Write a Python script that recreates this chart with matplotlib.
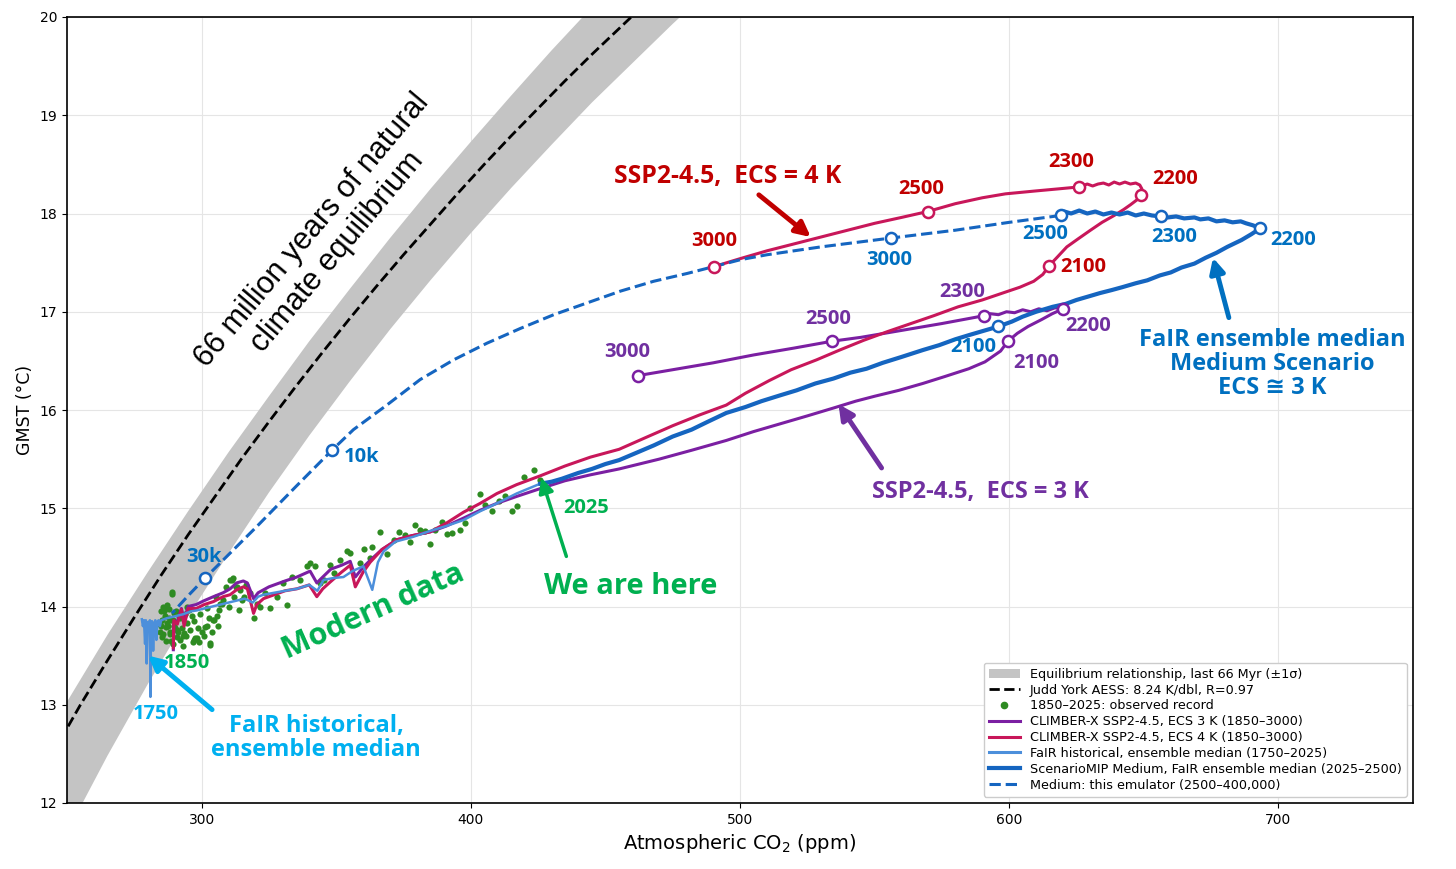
import numpy as np
import matplotlib
matplotlib.use("Agg")
import matplotlib.pyplot as plt
from matplotlib.lines import Line2D
from matplotlib.patches import Patch

# ---- data (CO2 ppm, GMST degC) ----
band_co2 = [245, 250, 265, 280, 295, 310, 325, 340, 355, 370, 385, 400, 415, 430, 445, 455]
band_top = [12.80, 13.03, 13.71, 14.35, 14.97, 15.57, 16.14, 16.70, 17.23, 17.75, 18.25,
            18.73, 19.20, 19.66, 20.10, 20.39]
band_low_co2 = [250, 265, 280, 295, 310, 325, 340, 355, 370, 385, 400, 415, 430, 445, 460, 475, 490]
band_bottom = [11.70, 12.48, 13.21, 13.90, 14.54, 15.16, 15.74, 16.29, 16.82, 17.32, 17.80,
               18.26, 18.70, 19.13, 19.53, 19.93, 20.31]

judd_co2 = [245, 255, 265, 275, 285, 295, 305, 315, 325, 335, 345, 355, 365, 375, 385,
            395, 405, 415, 425, 435, 445, 455, 465]
judd_t = [12.52, 13.00, 13.45, 13.89, 14.32, 14.73, 15.12, 15.51, 15.88, 16.24, 16.59,
          16.93, 17.26, 17.58, 17.89, 18.20, 18.50, 18.79, 19.07, 19.35, 19.62, 19.88, 20.14]

obs_co2 = [285.3, 286.6, 284.7, 287.8, 289.0, 287.2, 290.3, 290.9, 292.1, 293.4,
           294.6, 295.2, 296.5, 297.7, 299.0, 300.2, 301.4, 302.7, 303.3, 304.5,
           306.4, 307.6, 310.1, 311.3, 312.6, 313.8, 315.1, 285.3, 289.7, 288.9,
           285.8, 289.5, 292.0, 294.5, 287.0, 290.8, 293.2, 297.0, 298.2, 301.9,
           303.2, 304.4, 305.6, 306.9, 308.1, 310.6, 311.8, 313.1, 314.3, 315.6,
           318.0, 319.3, 320.5, 321.8, 323.6, 325.5, 327.9, 330.4, 331.7, 333.5,
           336.6, 339.1, 340.3, 342.2, 344.0, 345.3, 347.8, 349.0, 351.5, 354.0,
           355.2, 358.9, 360.2, 362.6, 363.3, 366.4, 368.8, 371.3, 373.2, 375.7,
           377.5, 379.4, 381.2, 383.1, 384.9, 386.8, 389.3, 391.1, 393.0, 396.1,
           397.9, 399.8, 403.5, 405.4, 407.9, 410.4, 412.8, 415.3, 417.2, 419.6,
           423.4, 425.8, 286.0, 288.2, 291.5, 284.9, 286.9, 288.5,
           284.5, 285.0, 285.8, 286.3, 286.9, 287.4, 287.9, 288.4, 288.8, 289.3,
           289.9, 290.6, 291.2, 291.8, 292.6, 293.0, 293.9, 294.2, 295.8, 296.9,
           297.3, 298.6, 299.5, 300.8, 302.0, 303.8, 305.2, 306.0, 309.0, 312.0, 316.5]
obs_t = [13.86, 13.79, 13.74, 13.88, 14.13, 14.02, 13.78, 13.69, 13.66, 13.73,
         13.83, 13.96, 13.90, 13.68, 13.64, 13.74, 13.79, 13.88, 13.61, 13.86,
         13.96, 14.03, 14.00, 14.27, 14.20, 13.96, 14.07, 13.69, 13.93, 14.15,
         14.00, 13.86, 13.93, 14.00, 13.83, 13.76, 13.70, 13.66, 13.68, 13.80,
         13.63, 13.86, 13.90, 14.03, 14.07, 14.27, 14.29, 14.20, 14.17, 14.10,
         14.14, 13.88, 14.03, 14.00, 14.14, 13.98, 14.10, 14.24, 14.02, 14.30,
         14.27, 14.41, 14.44, 14.41, 14.24, 14.27, 14.42, 14.34, 14.47, 14.56,
         14.54, 14.44, 14.59, 14.49, 14.61, 14.76, 14.53, 14.68, 14.76, 14.73,
         14.66, 14.83, 14.78, 14.77, 14.64, 14.78, 14.86, 14.74, 14.75, 14.78,
         14.85, 15.00, 15.15, 15.03, 14.97, 15.07, 15.12, 14.97, 15.02, 15.32,
         15.39, 15.29, 13.95, 13.72, 13.90, 13.80, 13.98, 13.65,
         13.82, 13.95, 13.72, 13.90, 13.65, 13.80, 13.97, 13.74, 13.86, 13.62,
         13.80, 13.95, 13.74, 13.88, 13.78, 13.60, 13.92, 13.70, 13.76, 13.64,
         13.85, 13.78, 13.92, 13.70, 13.98, 13.74, 14.10, 13.80, 14.20, 14.10, 14.22]

ecs3_path = [(289.5, 13.56), (289.7, 13.84), (291.0, 13.85), (292.5, 13.98), (293.5, 13.86),
             (295.0, 14.00), (298.0, 14.02), (301.0, 14.06), (304.4, 14.10), (308.0, 14.14),
             (310.6, 14.18), (313.0, 14.24), (315.5, 14.26), (317.0, 14.24), (319.3, 14.08),
             (321.0, 14.14), (325.0, 14.20), (331.0, 14.26), (335.4, 14.30), (340.3, 14.36),
             (342.8, 14.24), (345.0, 14.30), (348.0, 14.38), (352.0, 14.42), (355.2, 14.46),
             (357.1, 14.30), (360.0, 14.40), (363.0, 14.48), (367.0, 14.58), (372.6, 14.68),
             (378.0, 14.72), (385.0, 14.76), (391.0, 14.82), (397.3, 14.90), (403.5, 14.98),
             (409.7, 15.05), (417.0, 15.12), (425.8, 15.20), (435.0, 15.28), (444.4, 15.34),
             (455.1, 15.40), (470.0, 15.50), (482.0, 15.59), (494.9, 15.69), (505.0, 15.78),
             (515.0, 15.86), (525.0, 15.94), (534.7, 16.02), (543.0, 16.09), (550.0, 16.14),
             (559.0, 16.20), (567.9, 16.27), (576.0, 16.34), (585.0, 16.42), (591.0, 16.49),
             (596.8, 16.60), (599.5, 16.70), (603.0, 16.78), (607.0, 16.85), (612.0, 16.92),
             (616.0, 16.98), (620.0, 17.03), (617.0, 17.04), (614.0, 17.01), (611.0, 17.03),
             (608.0, 17.00), (605.0, 17.02), (602.0, 16.99), (599.0, 17.00), (596.0, 16.97),
             (593.0, 16.98), (590.7, 16.96), (575.0, 16.88), (560.0, 16.81), (545.0, 16.74),
             (534.2, 16.70), (520.0, 16.63), (505.0, 16.56), (490.0, 16.48), (475.0, 16.41),
             (462.1, 16.35)]

ecs4_path = [(289.5, 13.58), (289.7, 13.86), (291.0, 13.82), (292.5, 13.97), (293.5, 13.80),
             (295.0, 13.98), (298.0, 13.98), (301.0, 14.02), (304.4, 14.05), (308.0, 14.10),
             (310.6, 14.12), (313.0, 14.17), (315.5, 14.20), (317.0, 14.18), (319.3, 13.93),
             (320.5, 14.02), (323.0, 14.08), (327.0, 14.12), (331.0, 14.16), (335.4, 14.18),
             (340.0, 14.22), (342.8, 14.10), (345.0, 14.18), (347.8, 14.25), (352.0, 14.35),
             (355.2, 14.42), (357.1, 14.20), (360.0, 14.35), (362.6, 14.45), (367.0, 14.58),
             (372.6, 14.68), (378.0, 14.72), (384.9, 14.76), (391.0, 14.85), (397.3, 14.96),
             (403.5, 15.05), (409.7, 15.15), (417.0, 15.24), (425.8, 15.33), (435.0, 15.43),
             (444.4, 15.52), (455.1, 15.60), (465.0, 15.72), (475.0, 15.84), (485.0, 15.95),
             (494.9, 16.05), (502.0, 16.17), (510.9, 16.30), (519.0, 16.41), (528.4, 16.51),
             (537.0, 16.61), (546.0, 16.71), (555.0, 16.80), (563.5, 16.88), (572.0, 16.96),
             (581.0, 17.05), (590.0, 17.12), (598.6, 17.20), (604.0, 17.25), (609.1, 17.31),
             (612.5, 17.38), (614.9, 17.47), (618.0, 17.56), (621.4, 17.66), (625.5, 17.74),
             (630.2, 17.83), (634.5, 17.91), (639.0, 17.98), (642.5, 18.04), (645.1, 18.09),
             (647.5, 18.14), (649.0, 18.19), (649.3, 18.25), (648.5, 18.29), (647.0, 18.31),
             (645.0, 18.30), (643.0, 18.32), (641.0, 18.30), (639.0, 18.32), (637.0, 18.29),
             (635.0, 18.31), (633.0, 18.30), (631.0, 18.28), (629.0, 18.30), (627.0, 18.28),
             (625.8, 18.27), (618.0, 18.25), (610.0, 18.23), (598.6, 18.20), (590.0, 18.16),
             (580.0, 18.10), (569.7, 18.02), (560.0, 17.96), (550.0, 17.90), (540.0, 17.83),
             (530.0, 17.76), (520.0, 17.69), (510.0, 17.62), (500.0, 17.54), (490.4, 17.46)]

fair_hist_path = [(277.8, 13.87), (278.2, 13.80), (278.6, 13.86), (279.0, 13.62), (279.3, 13.86),
                  (279.6, 13.42), (280.0, 13.84), (280.4, 13.82), (280.8, 13.86), (281.0, 13.08),
                  (281.2, 13.80), (281.6, 13.85), (282.0, 13.55), (282.4, 13.82), (282.8, 13.86),
                  (283.2, 13.66), (283.6, 13.84), (284.0, 13.86), (284.5, 13.80), (285.0, 13.86),
                  (287.0, 13.88), (290.0, 13.90), (293.0, 13.92), (296.0, 13.95), (298.2, 13.96),
                  (301.0, 13.98), (304.0, 14.00), (307.0, 14.02), (310.0, 14.04), (313.0, 14.06),
                  (316.0, 14.08), (319.0, 14.04), (321.0, 14.10), (323.0, 14.12), (327.0, 14.14),
                  (331.0, 14.16), (335.4, 14.18), (340.0, 14.22), (343.0, 14.16), (345.3, 14.27),
                  (349.0, 14.29), (352.7, 14.30), (356.0, 14.36), (360.1, 14.41), (363.4, 14.17),
                  (365.5, 14.45), (367.6, 14.56), (372.0, 14.66), (378.7, 14.71), (385.0, 14.77),
                  (391.0, 14.82), (397.3, 14.88), (403.5, 14.97), (409.7, 15.05), (417.0, 15.15),
                  (425.8, 15.25)]

medium_path = [(425.8, 15.25), (430, 15.27), (433.8, 15.30), (440, 15.36), (445, 15.40),
               (450, 15.45), (455.1, 15.49), (462, 15.57), (468, 15.64), (475, 15.73),
               (482, 15.80), (488, 15.88), (494.9, 15.97), (502, 16.03), (508, 16.09),
               (515, 16.15), (521, 16.20), (528, 16.27), (534.7, 16.32), (541, 16.38),
               (547, 16.42), (553, 16.48), (560, 16.54), (567.9, 16.61), (574, 16.66),
               (580, 16.72), (586, 16.77), (591, 16.81), (596.0, 16.85), (601, 16.90),
               (605, 16.95), (610, 17.00), (616.1, 17.05), (621, 17.08), (625, 17.12),
               (630, 17.16), (633.7, 17.19), (638, 17.22), (642, 17.25), (647, 17.29),
               (651.3, 17.32), (656, 17.37), (660, 17.40), (664, 17.45), (668.8, 17.49),
               (673, 17.55), (677, 17.60), (681, 17.66), (686.3, 17.73), (690, 17.79),
               (693.3, 17.85), (690.5, 17.88), (688, 17.90), (686, 17.92), (683, 17.91),
               (680, 17.93), (677, 17.92), (674, 17.95), (671, 17.94), (668.8, 17.96),
               (665, 17.95), (662, 17.97), (659, 17.96), (656.5, 17.97), (653, 17.98),
               (650, 18.00), (647, 17.98), (644, 18.01), (641, 17.99), (638, 18.01),
               (635, 17.99), (632, 18.02), (629, 18.00), (626, 18.03), (623, 18.00),
               (620.5, 18.02), (619.1, 17.98)]

emulator_path = [(619.1, 17.98), (600, 17.91), (580, 17.83), (556, 17.75), (530, 17.66),
                 (510, 17.58), (500.2, 17.53), (490.3, 17.46), (480.4, 17.39), (467.9, 17.31),
                 (455.6, 17.21), (443.2, 17.09), (430.8, 16.97), (418.4, 16.83), (406.0, 16.68),
                 (393.6, 16.51), (381.2, 16.31), (368.8, 16.05), (356.4, 15.80), (348.4, 15.59),
                 (335, 15.22), (320, 14.80), (301.3, 14.29), (295, 14.11), (289, 13.93)]

# year markers on each trajectory
ecs4_years = ['2100', '2200', '2300', '2500', '3000']
ecs4_mark_co2 = [614.9, 649.0, 625.8, 569.7, 490.4]
ecs4_mark_t = [17.47, 18.19, 18.27, 18.02, 17.46]

ecs3_years = ['2100', '2200', '2300', '2500', '3000']
ecs3_mark_co2 = [599.5, 620.0, 590.7, 534.2, 462.1]
ecs3_mark_t = [16.70, 17.03, 16.96, 16.70, 16.35]

medium_years = ['2100', '2200', '2300', '2500', '3000', '10k', '30k']
medium_mark_co2 = [596.0, 693.3, 656.5, 619.1, 556.0, 348.4, 301.3]
medium_mark_t = [16.85, 17.85, 17.97, 17.98, 17.75, 15.59, 14.29]

# ---- styling ----
C_RED_LINE = '#C8175A'
C_PURPLE_LINE = '#7B1FA2'
C_BLUE = '#1565C0'
C_LIGHTBLUE = '#4C8FDB'
C_GREEN_DOT = '#2E8B22'
C_RED_TXT = '#C00000'
C_PURPLE_TXT = '#7030A0'
C_BLUE_TXT = '#0070C0'
C_GREEN_TXT = '#00B050'
C_CYAN_TXT = '#00B0F0'
ANN_FONT = ['Open Sans', 'DejaVu Sans']

fig = plt.figure(figsize=(14.56, 8.69), dpi=100)
ax = fig.add_axes([67 / 1456, 1 - 803 / 869, 1346 / 1456, 786 / 869])

ax.fill(band_co2 + band_low_co2[::-1], band_top + band_bottom[::-1],
        color='#C4C4C4', lw=0, zorder=1)
ax.plot(judd_co2, judd_t, color='black', ls='--', lw=2, zorder=2)

ax.scatter(obs_co2, obs_t, s=20, color=C_GREEN_DOT, lw=0, zorder=3)

for path, color, lw in [(ecs3_path, C_PURPLE_LINE, 2.2), (ecs4_path, C_RED_LINE, 2.2),
                        (fair_hist_path, C_LIGHTBLUE, 1.8), (medium_path, C_BLUE, 3.0)]:
    p = np.array(path)
    ax.plot(p[:, 0], p[:, 1], color=color, lw=lw, zorder=4, solid_joinstyle='round')

em = np.array(emulator_path)
ax.plot(em[:, 0], em[:, 1], color=C_BLUE, ls='--', lw=2.2, zorder=4)

for xs, ys, color in [(ecs4_mark_co2, ecs4_mark_t, C_RED_LINE),
                      (ecs3_mark_co2, ecs3_mark_t, C_PURPLE_LINE),
                      (medium_mark_co2, medium_mark_t, C_BLUE)]:
    ax.plot(xs, ys, 'o', ms=8, mfc='white', mec=color, mew=1.8, zorder=6)

# year labels next to the markers
lab_kw = dict(fontsize=14.5, fontweight='bold', family=ANN_FONT, ha='center', va='center', zorder=7)
for txt, x, y in zip(ecs4_years, [627.5, 661.7, 623.2, 567.4, 490.4], [17.46, 18.35, 18.52, 18.25, 17.72]):
    ax.text(x, y, txt, color=C_RED_TXT, **lab_kw)
for txt, x, y in zip(ecs3_years, [610.0, 629.3, 582.5, 532.8, 458.2], [16.48, 16.86, 17.20, 16.93, 16.59]):
    ax.text(x, y, txt, color=C_PURPLE_TXT, **lab_kw)
for txt, x, y in zip(medium_years, [586.6, 705.6, 661.4, 613.5, 555.6, 359.6, 300.7],
                     [16.64, 17.73, 17.76, 17.79, 17.53, 15.52, 14.50]):
    ax.text(x, y, txt, color=C_BLUE_TXT, **lab_kw)
ax.text(294.6, 13.42, '1850', color=C_GREEN_TXT, **lab_kw)
ax.text(443.0, 15.00, '2025', color=C_GREEN_TXT, **lab_kw)
ax.text(282.8, 12.91, '1750', color=C_CYAN_TXT, **lab_kw)


def arrow(head, tail, color, lw=3.5):
    ax.annotate('', xy=head, xytext=tail, zorder=7,
                arrowprops=dict(arrowstyle='-|>', color=color, lw=lw, mutation_scale=22,
                                shrinkA=0, shrinkB=0))


ax.text(345.7, 17.72, '66 million years of natural\nclimate equilibrium', rotation=50,
        rotation_mode='anchor', ha='center', va='center', multialignment='center',
        fontsize=22, family=['Liberation Sans', 'DejaVu Sans'], linespacing=1.15, zorder=7)

ax.text(495.4, 18.38, 'SSP2-4.5,  ECS = 4 K', color=C_RED_TXT, fontsize=17.8, fontweight='bold',
        family=ANN_FONT, ha='center', va='center', zorder=7)
arrow((526.3, 17.76), (507.0, 18.19), C_RED_TXT)

ax.text(589.4, 15.17, 'SSP2-4.5,  ECS = 3 K', color=C_PURPLE_TXT, fontsize=17, fontweight='bold',
        family=ANN_FONT, ha='center', va='center', zorder=7)
arrow((536.6, 16.06), (552.6, 15.41), C_PURPLE_TXT)

ax.text(697.9, 16.47, 'FaIR ensemble median\nMedium Scenario\nECS \u2245 3 K', color=C_BLUE_TXT,
        fontsize=17, fontweight='bold', family=ANN_FONT, ha='center', va='center',
        linespacing=1.0, zorder=7)
arrow((675.7, 17.55), (681.6, 16.94), C_BLUE_TXT)

ax.text(459.3, 14.20, 'We are here', color=C_GREEN_TXT, fontsize=21, fontweight='bold',
        family=ANN_FONT, ha='center', va='center', zorder=7)
arrow((426.2, 15.31), (435.5, 14.51), C_GREEN_TXT, lw=2.5)

ax.text(363.8, 13.95, 'Modern data', color=C_GREEN_TXT, fontsize=22, fontweight='bold',
        family=ANN_FONT, rotation=24, rotation_mode='anchor', ha='center', va='center', zorder=7)

ax.text(342.6, 12.66, 'FaIR historical,\nensemble median', color=C_CYAN_TXT, fontsize=17,
        fontweight='bold', family=ANN_FONT, ha='center', va='center', linespacing=1.0, zorder=7)
arrow((280.1, 13.50), (303.9, 12.95), C_CYAN_TXT)

ax.set_xlim(250, 750)
ax.set_ylim(12, 20)
ax.set_xticks([300, 400, 500, 600, 700])
ax.set_yticks(range(12, 21))
ax.tick_params(labelsize=10)
ax.grid(True, color='#E5E5E5', lw=0.8, zorder=0)
ax.set_axisbelow(True)
for s in ax.spines.values():
    s.set_linewidth(1.2)
ax.set_xlabel('Atmospheric CO$_2$ (ppm)', fontsize=14)
ax.set_ylabel('GMST (\u00b0C)', fontsize=12.5)

handles = [
    Patch(facecolor='#C4C4C4', edgecolor='none', label='Equilibrium relationship, last 66 Myr (\u00b11\u03c3)'),
    Line2D([], [], color='black', ls='--', lw=2, label='Judd York AESS: 8.24 K/dbl, R=0.97'),
    Line2D([], [], color=C_GREEN_DOT, marker='o', ls='none', ms=4.5, label='1850\u20132025: observed record'),
    Line2D([], [], color=C_PURPLE_LINE, lw=2.2, label='CLIMBER-X SSP2-4.5, ECS 3 K (1850\u20133000)'),
    Line2D([], [], color=C_RED_LINE, lw=2.2, label='CLIMBER-X SSP2-4.5, ECS 4 K (1850\u20133000)'),
    Line2D([], [], color=C_LIGHTBLUE, lw=2.2, label='FaIR historical, ensemble median (1750\u20132025)'),
    Line2D([], [], color=C_BLUE, lw=3, label='ScenarioMIP Medium, FaIR ensemble median (2025\u20132500)'),
    Line2D([], [], color=C_BLUE, ls='--', lw=2.2, label='Medium: this emulator (2500\u2013400,000)'),
]
leg = ax.legend(handles=handles, loc='lower right', fontsize=9.2, labelspacing=0.22,
                handlelength=2.4, framealpha=1, edgecolor='#CCCCCC')
leg.set_zorder(10)

fig.savefig('out.png', dpi=100)
